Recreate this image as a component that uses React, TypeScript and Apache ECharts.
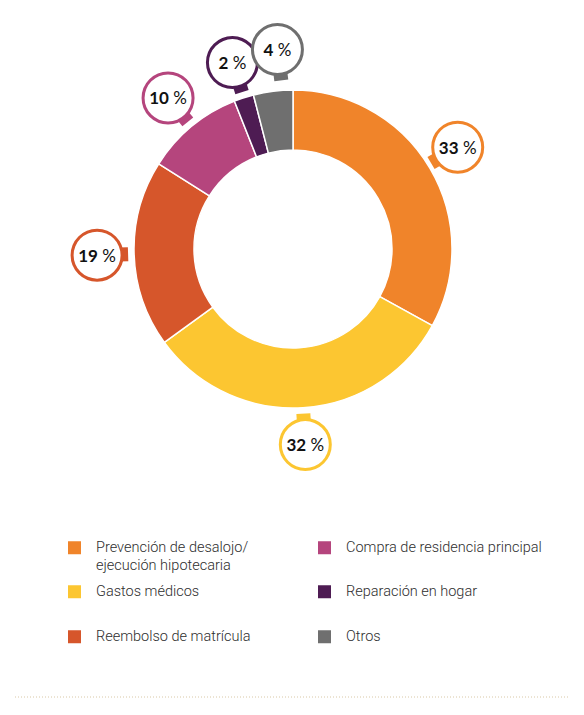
import React, { useEffect, useRef } from "react";
import * as echarts from "echarts";

// chart data
const categories = [
  "Prevención de desalojo/\nejecución hipotecaria",
  "Gastos médicos",
  "Reembolso de matrícula",
  "Compra de residencia principal",
  "Reparación en hogar",
  "Otros",
];
const shares = [33, 32, 19, 10, 2, 4];
const colors = ["#F0842A", "#FCC631", "#D6562B", "#B5457D", "#4E1C53", "#6F6F6F"];

// legend slots (left, icon top), column-wise
const legendSlots = [
  [66, 540],
  [66, 584],
  [66, 629],
  [316, 540],
  [316, 584],
  [316, 629],
];
// small manual shifts of the bubbles so they don't pile up
const bubbleNudge: Record<number, [number, number]> = { 0: [-4, -2], 5: [9, -5] };

const LABEL_FONT = "Lato, 'Noto Sans', sans-serif";
const LEGEND_FONT = "Roboto, 'Open Sans', sans-serif";
const LEGEND_LH = 17.5;

const App: React.FC = () => {
  const chartRef = useRef<HTMLDivElement | null>(null);

  useEffect(() => {
    if (!chartRef.current) return;
    const chart = echarts.init(chartRef.current, undefined, { renderer: "svg" });

    const legends = categories.map((name, i) => {
      const twoLines = name.includes("\n");
      return {
        data: [{ name, icon: "rect" }],
        orient: "vertical",
        left: legendSlots[i][0],
        // a blank first line keeps the square level with the first text line
        formatter: (n: string) => (twoLines ? "\n" + n : n),
        top: legendSlots[i][1] - (twoLines ? LEGEND_LH + 1 : 1),
        padding: 0,
        itemWidth: 15,
        itemHeight: 15,
        selectedMode: false,
        textStyle: {
          fontFamily: LEGEND_FONT,
          fontSize: 14.5,
          fontWeight: 300,
          lineHeight: LEGEND_LH,
          color: "#2e2e2e",
          padding: [0, 0, 0, 9],
        },
      };
    });

    const option = {
      animation: false,
      backgroundColor: "#fff",
      legend: legends,
      graphic: [
        {
          type: "line",
          shape: { x1: 15, y1: 697, x2: 570, y2: 697 },
          style: { stroke: "#d9c8a6", lineWidth: 1, lineDash: [1, 2] },
        },
      ],
      series: [
        {
          type: "pie",
          center: [293, 249],
          radius: [99, 159],
          startAngle: 90,
          clockwise: true,
          avoidLabelOverlap: false,
          itemStyle: { borderColor: "#fff", borderWidth: 1.5 },
          emphasis: { disabled: true },
          label: {
            show: true,
            position: "outside",
            formatter: "{v|{c}}{p| %}",
            backgroundColor: "#fff",
            borderWidth: 3,
            borderRadius: 24,
            width: 47,
            height: 47,
            padding: 0,
            align: "center",
            verticalAlign: "middle",
            rich: {
              v: { fontFamily: LABEL_FONT, fontSize: 17, fontWeight: "bold", color: "#111", lineHeight: 47 },
              p: { fontFamily: LABEL_FONT, fontSize: 17, fontWeight: "normal", color: "#111", lineHeight: 47 },
            },
          },
          labelLine: {
            show: true,
            length: 10,
            length2: 0,
            smooth: false,
            lineStyle: { width: 14, cap: "butt" },
          },
          labelLayout: (params: any) => {
            const pts = params.labelLinePoints;
            if (!pts) return {};
            const a = pts[0];
            const b = pts[1];
            const len = Math.hypot(b[0] - a[0], b[1] - a[1]) || 1;
            const ux = (b[0] - a[0]) / len;
            const uy = (b[1] - a[1]) / len;
            const nudge = bubbleNudge[params.dataIndex] || [0, 0];
            const cx = a[0] + ux * 37 + nudge[0];
            const cy = a[1] + uy * 37 + nudge[1];
            // short thick stub = the tab on the bubble facing the ring
            const t1 = [cx - ux * 21, cy - uy * 21];
            const t2 = [cx - ux * 31, cy - uy * 31];
            return {
              x: cx,
              y: cy,
              align: "center",
              verticalAlign: "middle",
              labelLinePoints: [t1, t2, t2],
            };
          },
          data: categories.map((name, i) => ({
            name,
            value: shares[i],
            itemStyle: { color: colors[i] },
            label: { borderColor: colors[i] },
          })),
        },
      ],
    };

    chart.setOption(option as any);

    const handleResize = () => chart.resize();
    window.addEventListener("resize", handleResize);
    return () => {
      window.removeEventListener("resize", handleResize);
      chart.dispose();
    };
  }, []);

  return (
    <div
      ref={chartRef}
      style={{ position: "absolute", left: 0, top: 0, width: 584, height: 715 }}
    />
  );
};

export default App;
